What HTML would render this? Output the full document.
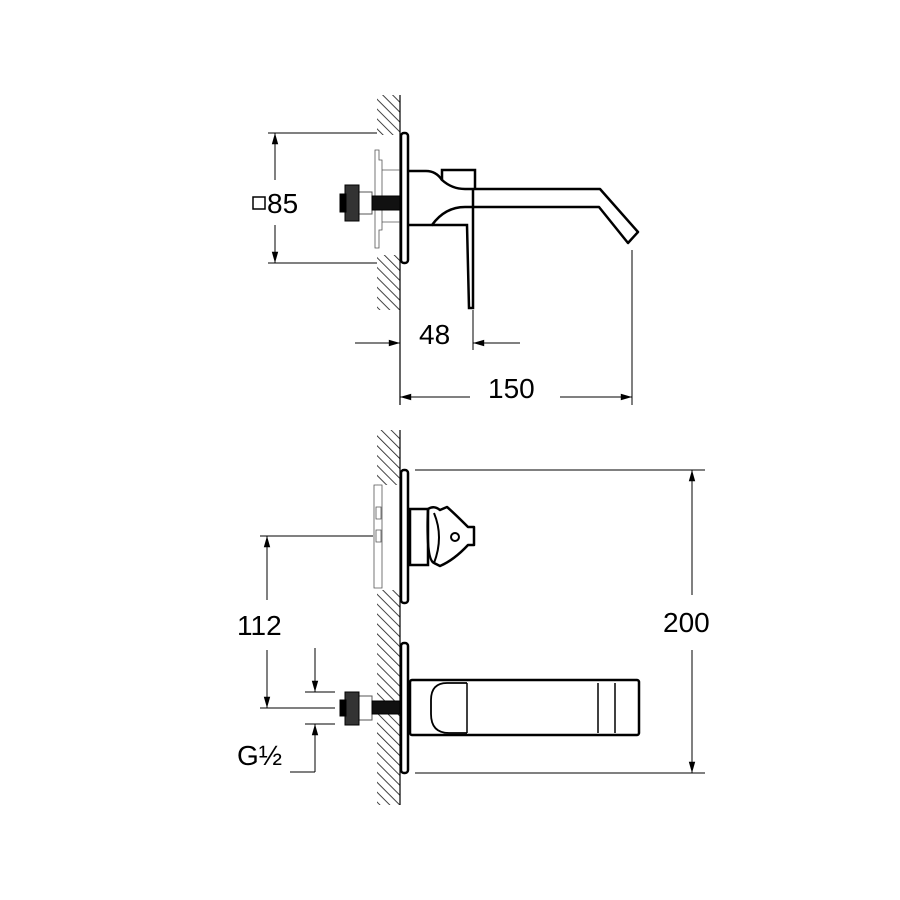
<!DOCTYPE html>
<html><head><meta charset="utf-8"><style>html,body{margin:0;padding:0;background:#fff}svg{display:block}</style></head>
<body>
<svg width="900" height="900" viewBox="0 0 900 900" xmlns="http://www.w3.org/2000/svg" font-family="Liberation Sans, sans-serif">
<defs>
<pattern id="h" width="7" height="7" patternUnits="userSpaceOnUse" patternTransform="rotate(-45)">
<line x1="0" y1="0" x2="0" y2="7" stroke="#222" stroke-width="1.7"/></pattern>
<marker id="b" viewBox="0 0 14 10" refX="14" refY="5" markerWidth="14" markerHeight="8" orient="auto-start-reverse" markerUnits="userSpaceOnUse"><path d="M0,1 L14,5 L0,9 z" fill="#000"/></marker>
</defs>
<g fill="none" stroke="#000">
<!-- TOP VIEW -->
<rect x="377" y="95" width="23" height="40" fill="url(#h)" stroke="none"/>
<rect x="377" y="255" width="23" height="55" fill="url(#h)" stroke="none"/>
<line x1="400" y1="95" x2="400" y2="405" stroke-width="1.2"/>
<path d="M375,150 h4 v10 h3 v70 h-3 v18 h-4 z M382,170 h18 M382,222 h18" stroke-width="0.8" stroke="#555"/>
<rect x="358" y="192" width="14" height="22" stroke-width="1" stroke="#555"/>
<rect x="345" y="185" width="14" height="36" fill="#333" stroke="#000"/>
<rect x="340" y="194" width="6" height="18" fill="#000"/>
<rect x="372" y="196" width="28" height="14" fill="#111"/>
<rect x="401" y="133" width="7" height="130" rx="3" stroke-width="2.5"/>
<path d="M409,171 H426 Q436,171 442,180 Q452,189 465,189 H600 L638,232 L628,243 L599,207 H465 Q445,207 432,225 H409" stroke-width="2.5" stroke-linejoin="round"/>
<path d="M442,180 V170 H475 V189" stroke-width="2.5"/>
<path d="M432,225 H467 L469,308 H473 V189" stroke-width="2.5"/>
<g stroke-width="1">
<line x1="268" y1="133" x2="377" y2="133"/>
<line x1="268" y1="263" x2="377" y2="263"/>
<line x1="275" y1="180" x2="275" y2="133" marker-end="url(#b)"/>
<line x1="275" y1="225" x2="275" y2="263" marker-end="url(#b)"/>
<line x1="355" y1="343" x2="400" y2="343" marker-end="url(#b)"/>
<line x1="520" y1="343" x2="473" y2="343" marker-end="url(#b)"/>
<line x1="473" y1="310" x2="473" y2="350"/>
<line x1="632" y1="250" x2="632" y2="405"/>
<line x1="470" y1="397" x2="400" y2="397" marker-end="url(#b)"/>
<line x1="560" y1="397" x2="632" y2="397" marker-end="url(#b)"/>
</g>
<!-- BOTTOM VIEW -->
<rect x="377" y="430" width="23" height="55" fill="url(#h)" stroke="none"/>
<rect x="377" y="590" width="23" height="215" fill="url(#h)" stroke="none"/>
<line x1="400" y1="430" x2="400" y2="805" stroke-width="1.2"/>
<path d="M374,485 h8 v103 h-8 z M376,507 h5 v12 h-5 z M376,530 h5 v12 h-5 z" stroke-width="0.8" stroke="#555"/>
<rect x="401" y="470" width="7" height="133" rx="3" stroke-width="2.5"/>
<rect x="401" y="643" width="7" height="130" rx="3" stroke-width="2.5"/>
<rect x="410" y="509" width="18" height="56" stroke-width="2.5"/>
<path d="M428,509 Q434,505 440,510 L447,507 Q454,513 468,527 H474 V545 H468 Q454,560 440,566 L434,563 Q426,560 428,509 Z" stroke-width="2.5" stroke-linejoin="round"/>
<path d="M434,513 Q444,537 434,563" stroke-width="2"/>
<circle cx="455" cy="537" r="4" stroke-width="2"/>
<rect x="410" y="680" width="229" height="55" rx="2" stroke-width="2.5"/>
<path d="M467,683 H447 Q431,683 431,700 V714 Q431,733 449,733 H467" stroke-width="1.8"/>
<line x1="467" y1="683" x2="467" y2="733" stroke-width="1.5"/>
<line x1="598" y1="683" x2="598" y2="733" stroke-width="1.5"/>
<line x1="615" y1="683" x2="615" y2="733" stroke-width="1.5"/>
<rect x="358" y="696" width="14" height="24" stroke-width="1" stroke="#555"/>
<rect x="345" y="692" width="14" height="33" fill="#333"/>
<rect x="340" y="700" width="6" height="16" fill="#000"/>
<rect x="372" y="701" width="28" height="13" fill="#111"/>
<g stroke-width="1">
<line x1="415" y1="470" x2="705" y2="470"/>
<line x1="415" y1="773" x2="705" y2="773"/>
<line x1="692" y1="595" x2="692" y2="470" marker-end="url(#b)"/>
<line x1="692" y1="650" x2="692" y2="773" marker-end="url(#b)"/>
<line x1="260" y1="536" x2="373" y2="536"/>
<line x1="267" y1="600" x2="267" y2="536" marker-end="url(#b)"/>
<line x1="267" y1="650" x2="267" y2="708" marker-end="url(#b)"/>
<line x1="260" y1="708" x2="335" y2="708"/>
<line x1="305" y1="692" x2="335" y2="692"/>
<line x1="305" y1="724" x2="335" y2="724"/>
<line x1="315" y1="648" x2="315" y2="692" marker-end="url(#b)"/>
<line x1="315" y1="772" x2="315" y2="724" marker-end="url(#b)"/>
<line x1="290" y1="772" x2="315" y2="772"/>
</g>
</g>
<g font-size="28" fill="#000">
<rect x="253" y="197" width="12" height="12" fill="none" stroke="#000" stroke-width="1.5"/>
<text x="267" y="213">85</text>
<text x="419" y="344">48</text>
<text x="488" y="398">150</text>
<text x="663" y="632">200</text>
<text x="237" y="635">112</text>
<text x="237" y="765">G½</text>
</g>
</svg>
</body></html>
